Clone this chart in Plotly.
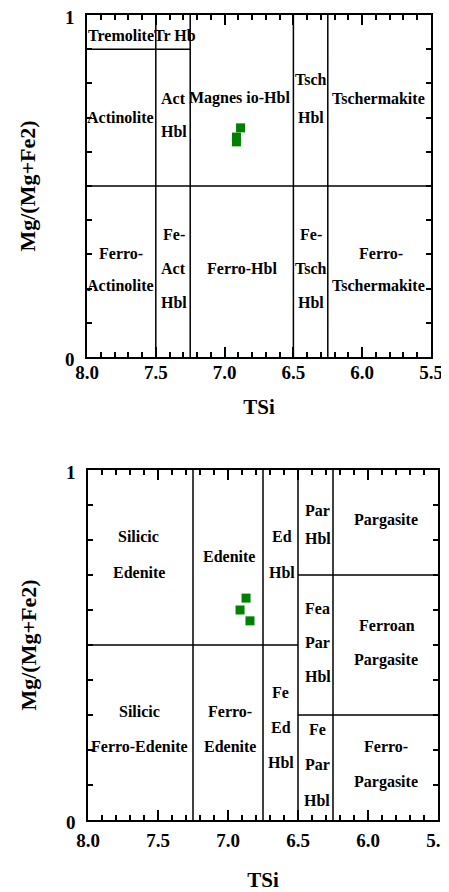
import plotly.graph_objects as go

# ---------------- data ----------------
x_tickvals = [8.0, 7.5, 7.0, 6.5, 6.0, 5.5]
x_ticktext = ["8.0", "7.5", "7.0", "6.5", "6.0", "5.5"]
y_tickvals = [0, 1]
y_ticktext = ["0", "1"]

# sample points (TSi, Mg/(Mg+Fe2))
top_tsi = [6.884, 6.914, 6.914]
top_mg = [0.670, 0.643, 0.629]
bot_tsi = [6.871, 6.914, 6.843]
bot_mg = [0.634, 0.600, 0.569]

# field boundaries: (x0, y0, x1, y1)
top_bounds = [
    (7.5, 0, 7.5, 1), (7.25, 0, 7.25, 1), (6.5, 0, 6.5, 1), (6.25, 0, 6.25, 1),
    (8.0, 0.5, 5.5, 0.5), (8.0, 0.9, 7.25, 0.9),
]
bot_bounds = [
    (7.25, 0, 7.25, 1), (6.75, 0, 6.75, 1), (6.5, 0, 6.5, 1), (6.25, 0, 6.25, 1),
    (8.0, 0.5, 6.5, 0.5), (6.5, 0.7, 5.5, 0.7), (6.5, 0.3, 5.5, 0.3),
]

# field labels: (text, x, y)
top_labels = [
    ("Tremolite", 7.75, 0.94), ("Tr Hb", 7.36, 0.94),
    ("Actinolite", 7.76, 0.70),
    ("Act", 7.37, 0.757), ("Hbl", 7.37, 0.658),
    ("Magnes io-Hbl", 6.89, 0.757),
    ("Tsch", 6.37, 0.81), ("Hbl", 6.37, 0.70),
    ("Tschermakite", 5.885, 0.757),
    ("Ferro-", 7.75, 0.304), ("Actinolite", 7.76, 0.208),
    ("Fe-", 7.37, 0.357), ("Act", 7.37, 0.26), ("Hbl", 7.37, 0.158),
    ("Ferro-Hbl", 6.87, 0.26),
    ("Fe-", 6.37, 0.357), ("Tsch", 6.37, 0.26), ("Hbl", 6.37, 0.158),
    ("Ferro-", 5.86, 0.304), ("Tschermakite", 5.885, 0.208),
]
bot_labels = [
    ("Silicic", 7.636, 0.809), ("Edenite", 7.636, 0.706),
    ("Edenite", 6.99, 0.754),
    ("Ed", 6.615, 0.809), ("Hbl", 6.615, 0.706),
    ("Par", 6.36, 0.883), ("Hbl", 6.36, 0.803),
    ("Pargasite", 5.87, 0.857),
    ("Fea", 6.36, 0.605), ("Par", 6.36, 0.506), ("Hbl", 6.36, 0.411),
    ("Ferroan", 5.865, 0.557), ("Pargasite", 5.87, 0.457),
    ("Fe", 6.625, 0.363), ("Ed", 6.625, 0.263), ("Hbl", 6.625, 0.163),
    ("Silicic", 7.63, 0.311), ("Ferro-Edenite", 7.63, 0.211),
    ("Ferro-", 6.986, 0.311), ("Edenite", 6.986, 0.211),
    ("Fe", 6.364, 0.26), ("Par", 6.364, 0.16), ("Hbl", 6.364, 0.057),
    ("Ferro-", 5.87, 0.209), ("Pargasite", 5.87, 0.109),
]

# ---------------- figure ----------------
OFF = 8  # page body margin around the plot div
W, H = 449 - OFF, 892 - OFF
FONT = "Liberation Serif"
fig = go.Figure()


def dx(p):
    return (p - OFF) / W


def dy(p):
    return 1 - (p - OFF) / H


def add_bounds(bounds, xa, ya):
    xs, ys = [], []
    for x0, y0, x1, y1 in bounds:
        xs += [x0, x1, None]
        ys += [y0, y1, None]
    fig.add_trace(go.Scatter(x=xs, y=ys, mode="lines", xaxis=xa, yaxis=ya,
                             line=dict(color="black", width=1.5),
                             hoverinfo="skip", showlegend=False))


add_bounds(top_bounds, "x", "y")
add_bounds(bot_bounds, "x2", "y2")

fig.add_trace(go.Scatter(x=top_tsi, y=top_mg, mode="markers", xaxis="x", yaxis="y",
                         marker=dict(symbol="square", size=9, color="#008000"),
                         showlegend=False))
fig.add_trace(go.Scatter(x=bot_tsi, y=bot_mg, mode="markers", xaxis="x2", yaxis="y2",
                         marker=dict(symbol="square", size=9, color="#008000"),
                         showlegend=False))

annotations = []
for labels, xr, yr in [(top_labels, "x", "y"), (bot_labels, "x2", "y2")]:
    for t, x, y in labels:
        annotations.append(dict(text=t, x=x, y=y, xref=xr, yref=yr, showarrow=False,
                                font=dict(family=FONT, size=16, color="black", weight="bold")))


def xaxis(domain, anchor, lab_off, title_off):
    return dict(domain=domain, anchor=anchor, range=[8.0, 5.5], autorange=False,
                automargin=False, ticklabeloverflow="allow",
                tickmode="array", tickvals=x_tickvals, ticktext=x_ticktext,
                ticks="inside", ticklen=10, tickwidth=1.5, tickcolor="black",
                minor=dict(tickmode="linear", tick0=0, dtick=0.1, ticks="inside",
                           ticklen=5, tickwidth=1.5, tickcolor="black"),
                showline=True, linecolor="black", linewidth=1.5, mirror="ticks",
                showgrid=False, zeroline=False, ticklabelstandoff=lab_off,
                tickfont=dict(family=FONT, size=19, color="black", weight="bold"),
                title=dict(text="TSi", standoff=title_off,
                           font=dict(family=FONT, size=21, color="black", weight="bold")))


def yaxis(domain, anchor):
    return dict(domain=domain, anchor=anchor, range=[0, 1], autorange=False,
                automargin=False, ticklabeloverflow="allow",
                tickmode="array", tickvals=y_tickvals, ticktext=y_ticktext,
                ticks="inside", ticklen=5, tickwidth=1.5, tickcolor="black",
                minor=dict(tickmode="linear", tick0=0, dtick=0.1, ticks="inside",
                           ticklen=5, tickwidth=1.5, tickcolor="black"),
                showline=True, linecolor="black", linewidth=1.5, mirror="ticks",
                showgrid=False, zeroline=False, ticklabelstandoff=7, ticklabelshift=2,
                tickfont=dict(family=FONT, size=19, color="black", weight="bold"),
                title=dict(text="Mg/(Mg+Fe2)", standoff=23,
                           font=dict(family=FONT, size=22, color="black", weight="bold")))


fig.update_layout(
    width=W, height=H,
    margin=dict(l=0, r=0, t=0, b=0),
    paper_bgcolor="white", plot_bgcolor="white",
    xaxis=xaxis([dx(87), dx(431)], "y", -3, 18),
    yaxis=yaxis([dy(357), dy(15)], "x"),
    xaxis2=xaxis([dx(88), dx(438)], "y2", 2, 27),
    yaxis2=yaxis([dy(820), dy(470)], "x2"),
    annotations=annotations,
    showlegend=False,
)

fig.write_html("out.html")
